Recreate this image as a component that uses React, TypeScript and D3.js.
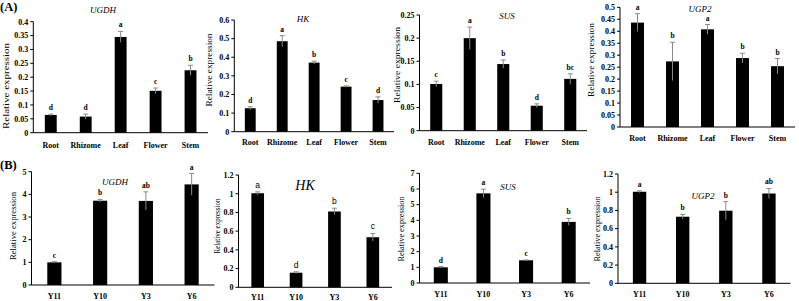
import React from 'react';
import * as d3 from 'd3';

// ---------- data ----------
const tissues = ['Root', 'Rhizome', 'Leaf', 'Flower', 'Stem'];
const stages = ['Y11', 'Y10', 'Y3', 'Y6'];

const ugdhTissue = [0.064, 0.058, 0.345, 0.151, 0.225];
const ugdhTissueErr = [0.003, 0.009, 0.02, 0.01, 0.018];
const ugdhTissueSig = ['d', 'd', 'a', 'c', 'b'];
const ugdhTissueTicks = [0, 0.05, 0.1, 0.15, 0.2, 0.25, 0.3, 0.35, 0.4];

const hkTissue = [0.126, 0.486, 0.371, 0.242, 0.17];
const hkTissueErr = [0.008, 0.03, 0.008, 0.004, 0.017];
const hkTissueSig = ['d', 'a', 'b', 'c', 'd'];
const hkTissueTicks = [0, 0.1, 0.2, 0.3, 0.4, 0.5, 0.6];

const susTissue = [0.101, 0.2, 0.144, 0.054, 0.112];
const susTissueErr = [0.006, 0.024, 0.009, 0.004, 0.011];
const susTissueSig = ['c', 'a', 'b', 'd', 'bc'];
const susTissueTicks = [0, 0.05, 0.1, 0.15, 0.2, 0.25];

const ugp2Tissue = [0.436, 0.274, 0.408, 0.288, 0.254];
const ugp2TissueErr = [0.037, 0.08, 0.02, 0.02, 0.032];
const ugp2TissueSig = ['a', 'b', 'a', 'b', 'b'];
const ugp2TissueTicks = [0, 0.05, 0.1, 0.15, 0.2, 0.25, 0.3, 0.35, 0.4, 0.45, 0.5];

const ugdhStage = [1.0, 3.72, 3.71, 4.44];
const ugdhStageErr = [0.03, 0.06, 0.4, 0.48];
const ugdhStageSig = ['c', 'b', 'ab', 'a'];
const ugdhStageTicks = [0, 1, 2, 3, 4, 5];

const hkStage = [1.005, 0.156, 0.81, 0.535];
const hkStageErr = [0.015, 0.01, 0.035, 0.04];
const hkStageSig = ['a', 'd', 'b', 'c'];
const hkStageTicks = [0, 0.2, 0.4, 0.6, 0.8, 1, 1.2];

const susStage = [1.0, 5.72, 1.45, 3.9];
const susStageErr = [0.05, 0.27, 0.02, 0.22];
const susStageSig = ['d', 'a', 'c', 'b'];
const susStageTicks = [0, 1, 2, 3, 4, 5, 6, 7];

const ugp2Stage = [1.005, 0.731, 0.797, 0.986];
const ugp2StageErr = [0.01, 0.025, 0.1, 0.055];
const ugp2StageSig = ['a', 'b', 'b', 'ab'];
const ugp2StageTicks = [0, 0.2, 0.4, 0.6, 0.8, 1, 1.2];

const yLabel = 'Relative expression';

// ---------- layout ----------
const SERIF = '"Liberation Serif", "Times New Roman", serif';
const SANS = '"Liberation Sans", Arial, sans-serif';

type Panel = {
  title: string; cats: string[]; vals: number[]; errs: number[]; sig: string[]; ticks: number[];
  x0: number; x1: number; yBot: number; yTop: number; barFrac: number;
  titleX: number; titleY: number; titleSize: number;
  ylX: number; ylY: number; ylLen: number; catY: number; sigFont: string; sigSize: number;
};

const panels: Panel[] = [
  { title: 'UGDH', cats: tissues, vals: ugdhTissue, errs: ugdhTissueErr, sig: ugdhTissueSig, ticks: ugdhTissueTicks,
    x0: 33.3, x1: 208, yBot: 132.7, yTop: 21.7, barFrac: 0.34, titleX: 103, titleY: 13, titleSize: 9,
    ylX: 6, ylY: 86, ylLen: 86, catY: 148, sigFont: SERIF, sigSize: 7.5 },
  { title: 'HK', cats: tissues, vals: hkTissue, errs: hkTissueErr, sig: hkTissueSig, ticks: hkTissueTicks,
    x0: 234.3, x1: 394, yBot: 131.7, yTop: 20, barFrac: 0.34, titleX: 303, titleY: 22, titleSize: 9,
    ylX: 209, ylY: 70, ylLen: 73, catY: 144.5, sigFont: SERIF, sigSize: 7.5 },
  { title: 'SUS', cats: tissues, vals: susTissue, errs: susTissueErr, sig: susTissueSig, ticks: susTissueTicks,
    x0: 419.5, x1: 587, yBot: 130.7, yTop: 15, barFrac: 0.36, titleX: 507, titleY: 19, titleSize: 9,
    ylX: 396.5, ylY: 65, ylLen: 76, catY: 144.5, sigFont: SERIF, sigSize: 7.5 },
  { title: 'UGP2', cats: tissues, vals: ugp2Tissue, errs: ugp2TissueErr, sig: ugp2TissueSig, ticks: ugp2TissueTicks,
    x0: 620, x1: 795, yBot: 127, yTop: 7.3, barFrac: 0.37, titleX: 700, titleY: 12, titleSize: 9,
    ylX: 590.5, ylY: 60, ylLen: 74, catY: 140.5, sigFont: SERIF, sigSize: 7.5 },
  { title: 'UGDH', cats: stages, vals: ugdhStage, errs: ugdhStageErr, sig: ugdhStageSig, ticks: ugdhStageTicks,
    x0: 31.5, x1: 214.5, yBot: 285, yTop: 171.7, barFrac: 0.31, titleX: 115, titleY: 185, titleSize: 9,
    ylX: 12.5, ylY: 226, ylLen: 68, catY: 298.5, sigFont: SERIF, sigSize: 7.5 },
  { title: 'HK', cats: stages, vals: hkStage, errs: hkStageErr, sig: hkStageSig, ticks: hkStageTicks,
    x0: 238.5, x1: 392, yBot: 287.3, yTop: 175, barFrac: 0.33, titleX: 305, titleY: 190, titleSize: 14,
    ylX: 216.5, ylY: 226, ylLen: 55, catY: 299.5, sigFont: SANS, sigSize: 8.5 },
  { title: 'SUS', cats: stages, vals: susStage, errs: susStageErr, sig: susStageSig, ticks: susStageTicks,
    x0: 419.5, x1: 590, yBot: 283, yTop: 173.3, barFrac: 0.33, titleX: 508, titleY: 190, titleSize: 9,
    ylX: 400.5, ylY: 229, ylLen: 65, catY: 296.5, sigFont: SERIF, sigSize: 7.5 },
  { title: 'UGP2', cats: stages, vals: ugp2Stage, errs: ugp2StageErr, sig: ugp2StageSig, ticks: ugp2StageTicks,
    x0: 618, x1: 790.5, yBot: 283.3, yTop: 174, barFrac: 0.31, titleX: 703, titleY: 199, titleSize: 9,
    ylX: 596.5, ylY: 229, ylLen: 65, catY: 296.5, sigFont: SERIF, sigSize: 7.5 },
];

const fmt = (v: number) => String(+v.toFixed(2));

function BarPanel({ p }: { p: Panel }) {
  const yMax = p.ticks[p.ticks.length - 1];
  const y = d3.scaleLinear().domain([0, yMax]).range([p.yBot, p.yTop]);
  const pi = 1 - p.barFrac;
  const x = d3.scaleBand<string>().domain(p.cats).range([p.x0, p.x1]).paddingInner(pi).paddingOuter(pi / 2);
  const bw = x.bandwidth();
  return (
    <g>
      {p.cats.map((c, i) => {
        const v = p.vals[i];
        const e = p.errs[i];
        const cx = (x(c) as number) + bw / 2;
        const yTopErr = y(v + e);
        return (
          <g key={c}>
            <rect x={x(c)} y={y(v)} width={bw} height={p.yBot - y(v)} fill="#000" />
            <line x1={cx} x2={cx} y1={y(Math.max(0, v - e))} y2={yTopErr} stroke="#8a8a8a" strokeWidth={1} />
            <line x1={cx - 2.5} x2={cx + 2.5} y1={yTopErr} y2={yTopErr} stroke="#8a8a8a" strokeWidth={1} />
            <text x={cx} y={yTopErr - 4} textAnchor="middle" fontFamily={p.sigFont} fill="#000"
              fontWeight={p.sigFont === SERIF ? 'bold' : 'normal'} fontSize={p.sigSize}>{p.sig[i]}</text>
            <text x={cx} y={p.catY} textAnchor="middle" fontFamily={SERIF} fontWeight="bold" fontSize={8} fill="#000">{c}</text>
          </g>
        );
      })}
      {/* y axis */}
      <line x1={p.x0} x2={p.x0} y1={p.yBot} y2={p.yTop} stroke="#000" strokeWidth={1} />
      {p.ticks.map((t) => (
        <g key={t}>
          <line x1={p.x0 - 3} x2={p.x0} y1={y(t)} y2={y(t)} stroke="#000" strokeWidth={1} />
          <text x={p.x0 - 5} y={y(t) + 2.8} textAnchor="end" fontFamily={SERIF} fontWeight="bold" fontSize={8} fill="#000">{fmt(t)}</text>
        </g>
      ))}
      {/* x axis */}
      <line x1={p.x0} x2={p.x1} y1={p.yBot} y2={p.yBot} stroke="#000" strokeWidth={1} />
      <text x={p.titleX} y={p.titleY} textAnchor="middle" fontFamily={SERIF} fontStyle="italic" fontSize={p.titleSize} fill="#000">{p.title}</text>
      <text transform={`translate(${p.ylX},${p.ylY}) rotate(-90)`} textAnchor="middle" dominantBaseline="central" fill="#000"
        fontFamily={SERIF} fontSize={9} textLength={p.ylLen} lengthAdjust="spacingAndGlyphs">{yLabel}</text>
    </g>
  );
}

export default function App() {
  return (
    <svg width={799} height={301} style={{ position: 'absolute', left: 0, top: 0, background: '#fff' }}>
      <rect width={799} height={301} fill="#fff" />
      {panels.map((p, i) => <BarPanel key={i} p={p} />)}
      <text x={0} y={11} fontFamily={SERIF} fontWeight="bold" fontSize={12.5} fill="#000">(A)</text>
      <text x={0} y={169} fontFamily={SERIF} fontWeight="bold" fontSize={12.5} fill="#000">(B)</text>
    </svg>
  );
}
